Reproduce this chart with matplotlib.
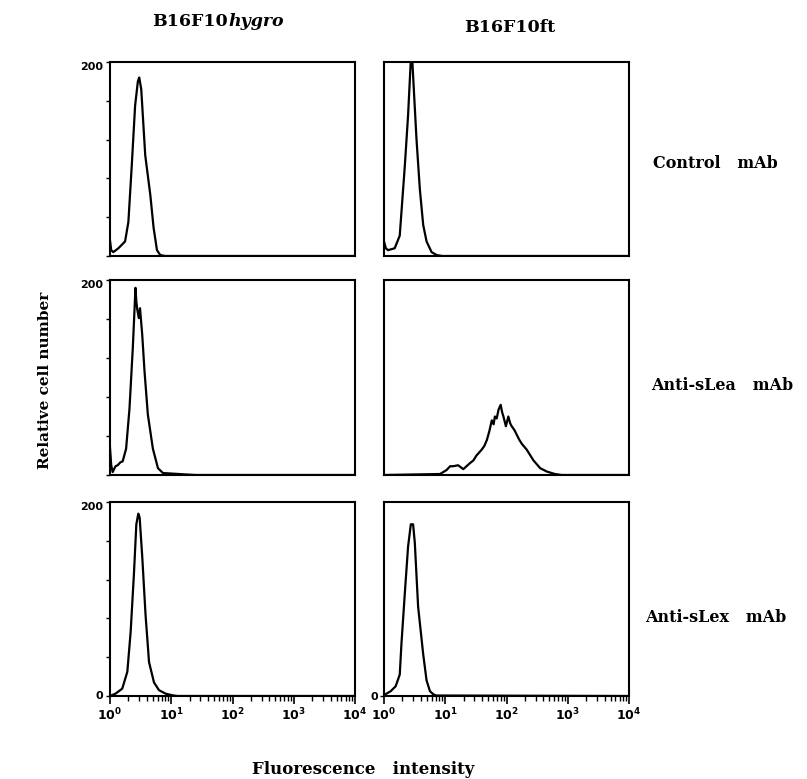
import matplotlib
matplotlib.use("Agg")
import matplotlib.pyplot as plt
import numpy as np
from matplotlib.ticker import FixedLocator, LogLocator, NullFormatter

# ---- data (log10 fluorescence channel, relative cell count) ----
tl_log = [0.0, 0.02, 0.054, 0.137, 0.246, 0.30, 0.355, 0.41, 0.455, 0.477, 0.51, 0.575, 0.658, 0.712, 0.767, 0.82, 0.9, 4.0]
tl_cnt = [16, 6, 4, 8, 15, 35, 93, 155, 180, 184, 172, 104, 63, 29, 6, 1, 0, 0]

tr_log = [0.0, 0.03, 0.066, 0.175, 0.257, 0.34, 0.393, 0.44, 0.455, 0.475, 0.53, 0.585, 0.64, 0.695, 0.777, 0.86, 0.95, 4.0]
tr_cnt = [15, 8, 6, 8, 21, 93, 145, 205, 210, 186, 121, 69, 32, 15, 4, 1, 0, 0]

ml_log = [0.0, 0.02, 0.043, 0.09, 0.125, 0.17, 0.207, 0.263, 0.318, 0.372, 0.416, 0.43, 0.445, 0.47, 0.49, 0.526, 0.564, 0.618, 0.70, 0.783, 0.865, 1.0, 1.25, 1.4, 4.0]
ml_cnt = [28, 10, 3, 9, 10, 13, 14, 27, 68, 130, 192, 178, 170, 161, 171, 144, 106, 62, 27, 7, 2, 1.5, 0.5, 0, 0]

mr_log = [0.0, 0.914, 1.02, 1.08, 1.13, 1.21, 1.295, 1.40, 1.46, 1.51, 1.595, 1.64, 1.68, 1.72, 1.76, 1.79, 1.81, 1.84, 1.87, 1.905, 1.93, 1.95, 1.99, 2.03, 2.06, 2.085, 2.13, 2.17, 2.21, 2.25, 2.29, 2.33, 2.44, 2.55, 2.66, 2.79, 2.9, 4.0]
mr_cnt = [0, 1, 5, 9, 9, 10, 6, 12, 15, 20, 26, 30, 36, 45, 56, 52, 60, 58, 67, 72, 64, 60, 50, 60, 53, 50, 46, 41, 36, 32, 29, 26, 15, 7, 3.5, 1, 0, 0]

bl_log = [0.0, 0.09, 0.2, 0.283, 0.337, 0.39, 0.43, 0.462, 0.484, 0.527, 0.58, 0.637, 0.718, 0.80, 0.908, 1.02, 1.1, 4.0]
bl_cnt = [0, 2.4, 7.6, 25, 66, 125, 177, 188, 184, 143, 84, 35, 14, 6, 2.4, 0.7, 0, 0]

br_log = [0.0, 0.03, 0.11, 0.19, 0.257, 0.285, 0.34, 0.393, 0.438, 0.475, 0.503, 0.557, 0.64, 0.695, 0.75, 0.80, 0.85, 4.0]
br_cnt = [0, 2, 5, 10, 22, 54, 106, 154, 177, 177, 158, 92, 43, 16, 5, 2, 0.5, 0]

col_titles = ["B16F10", "B16F10ft"]
row_labels = ["Control   mAb", "Anti-sLea   mAb", "Anti-sLex   mAb"]
x_tick_vals = [1, 10, 100, 1000, 10000]
x_tick_labels = [r"$\mathbf{10^{0}}$", r"$\mathbf{10^{1}}$", r"$\mathbf{10^{2}}$", r"$\mathbf{10^{3}}$", r"$\mathbf{10^{4}}$"]
y_tick_vals = [0, 40, 80, 120, 160, 200]

panels = [[(tl_log, tl_cnt), (tr_log, tr_cnt)],
          [(ml_log, ml_cnt), (mr_log, mr_cnt)],
          [(bl_log, bl_cnt), (br_log, br_cnt)]]

W, H = 807, 779
fig = plt.figure(figsize=(W / 100, H / 100), dpi=100)
fig.patch.set_facecolor("white")

col_x = [(110, 355), (384, 629)]
row_y = [(62, 256), (280, 475), (502, 696)]

serif = "DejaVu Serif"

for r in range(3):
    for c in range(2):
        x0, x1 = col_x[c]
        y0, y1 = row_y[r]
        ax = fig.add_axes([x0 / W, 1 - y1 / H, (x1 - x0) / W, (y1 - y0) / H])
        lg, cnt = panels[r][c]
        xs = [10 ** v for v in lg]
        ax.plot(xs, cnt, color="black", lw=1.6, solid_joinstyle="round")
        ax.set_xscale("log")
        ax.set_xlim(1, 1e4)
        ax.set_ylim(0, 200)
        for s in ax.spines.values():
            s.set_linewidth(1.5)
        ax.tick_params(axis="both", which="both", direction="out", colors="black")
        # y ticks
        if c == 0:
            ax.yaxis.set_major_locator(FixedLocator(y_tick_vals))
            labs = ["" for _ in y_tick_vals]
            labs[-1] = "200"
            if r == 2:
                labs[0] = "0"
            ax.set_yticklabels(labs, fontsize=8, fontweight="bold", family="DejaVu Sans")
            ax.tick_params(axis="y", length=3, width=1.0, pad=2)
            for t in ax.get_yticklabels():
                t.set_verticalalignment("top" if t.get_text() == "200" else "center")
        else:
            if r == 2:
                ax.yaxis.set_major_locator(FixedLocator([0]))
                ax.set_yticklabels(["0"], fontsize=8, fontweight="bold", family="DejaVu Sans")
                ax.tick_params(axis="y", length=3, width=1.0, pad=1)
            else:
                ax.set_yticks([])
        # x ticks
        if r == 2:
            ax.xaxis.set_major_locator(FixedLocator(x_tick_vals))
            ax.set_xticklabels(x_tick_labels, fontsize=9)
            ax.xaxis.set_minor_locator(LogLocator(base=10, subs=np.arange(2, 10), numticks=20))
            ax.xaxis.set_minor_formatter(NullFormatter())
            ax.tick_params(axis="x", which="major", length=6, width=1.2, pad=2)
            ax.tick_params(axis="x", which="minor", length=3.5, width=1.0)
        else:
            ax.set_xticks([])
            ax.xaxis.set_minor_locator(FixedLocator([]))

# column titles
fig.text(228 / W, 1 - 22 / H, col_titles[0], fontsize=12.5, fontweight="bold", family=serif,
         ha="right", va="center")
fig.text(228 / W, 1 - 22 / H, "hygro", fontsize=12.5, fontweight="bold", style="italic",
         family=serif, ha="left", va="center")
fig.text(510 / W, 1 - 27 / H, col_titles[1], fontsize=12.5, fontweight="bold", family=serif,
         ha="center", va="center")

# row labels
row_lab_x = [653, 651, 645]
row_lab_y = [163, 386, 618]
for lab, lx, ly in zip(row_labels, row_lab_x, row_lab_y):
    fig.text(lx / W, 1 - ly / H, lab, fontsize=11.5, fontweight="bold", family=serif,
             ha="left", va="center")

fig.text(45 / W, 1 - 380 / H, "Relative cell number", fontsize=11, fontweight="bold",
         family=serif, rotation=90, ha="center", va="center")
fig.text(363 / W, 1 - 770 / H, "Fluorescence   intensity", fontsize=12, fontweight="bold",
         family=serif, ha="center", va="center")

fig.savefig("out.png", dpi=100, facecolor="white")
